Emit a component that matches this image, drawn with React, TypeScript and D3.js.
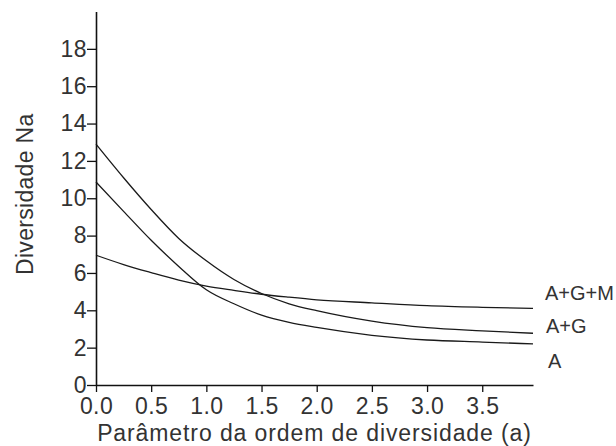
import React, { useEffect, useRef } from "react";
import * as d3 from "d3";

// parâmetro da ordem (a) where the curves were read
const orderParam = [0, 0.25, 0.5, 0.75, 1.0, 1.25, 1.5, 1.75, 2.0, 2.5, 3.0, 3.5, 3.96];

const seriesNames = ["A+G+M", "A+G", "A"];
const agmValues = [6.95, 6.45, 6.02, 5.62, 5.3, 5.07, 4.86, 4.7, 4.56, 4.4, 4.25, 4.16, 4.1];
const agValues = [12.9, 11.1, 9.4, 7.85, 6.65, 5.65, 4.9, 4.35, 3.98, 3.42, 3.07, 2.9, 2.77];
const aValues = [10.87, 9.3, 7.75, 6.35, 5.1, 4.35, 3.74, 3.35, 3.08, 2.66, 2.41, 2.3, 2.2];

const xTicks = [0, 0.5, 1.0, 1.5, 2.0, 2.5, 3.0, 3.5];
const yTicks = [0, 2, 4, 6, 8, 10, 12, 14, 16, 18];

const xTitle = "Parâmetro da ordem de diversidade (a)";
const yTitle = "Diversidade Na";

const width = 616;
const height = 446;
const margin = { top: 11.5, right: 83, bottom: 61, left: 96 };
const font = "'Liberation Sans', Arial, sans-serif";
const textColor = "#333";

export default function App() {
  const ref = useRef<SVGSVGElement>(null);

  useEffect(() => {
    const svg = d3.select(ref.current);
    svg.selectAll("*").remove();

    const x = d3
      .scaleLinear()
      .domain([0, 3.96])
      .range([margin.left, width - margin.right]);
    const y = d3
      .scaleLinear()
      .domain([0, 20])
      .range([height - margin.bottom, margin.top]);

    const series = [agmValues, agValues, aValues];
    // label nudges (px) relative to each curve's end
    const labelDy = [-8, 0, 24];
    const labelDx = [12, 13, 15];

    const line = d3
      .line<number>()
      .x((d, i) => x(orderParam[i]))
      .y(d => y(d))
      .curve(d3.curveMonotoneX);

    svg
      .append("g")
      .selectAll("path")
      .data(series)
      .join("path")
      .attr("d", d => line(d))
      .attr("fill", "none")
      .attr("stroke", "#1a1a1a")
      .attr("stroke-width", 1.3);

    // x axis
    const gx = svg
      .append("g")
      .attr("transform", `translate(0,${y(0)})`)
      .call(
        d3
          .axisBottom(x)
          .tickValues(xTicks)
          .tickFormat(d3.format(".1f"))
          .tickSize(7)
          .tickSizeOuter(0)
          .tickPadding(6)
      );

    // y axis
    const gy = svg
      .append("g")
      .attr("transform", `translate(${x(0)},0)`)
      .call(
        d3
          .axisLeft(y)
          .tickValues(yTicks)
          .tickSize(9)
          .tickSizeOuter(0)
          .tickPadding(0)
      );

    [gx, gy].forEach(g => {
      g.select(".domain").attr("stroke", "#111").attr("stroke-width", 1.6);
      g.selectAll(".tick line").attr("stroke", "#111").attr("stroke-width", 1.3);
      g.selectAll("text")
        .attr("fill", textColor)
        .style("font-family", font)
        .style("font-size", "23px")
        .style("letter-spacing", "0.4px");
    });

    svg
      .append("g")
      .selectAll("text")
      .data(seriesNames)
      .join("text")
      .attr("x", (d, i) => x(3.96) + labelDx[i])
      .attr("y", (d, i) => y(series[i][series[i].length - 1]) + labelDy[i])
      .attr("fill", textColor)
      .style("font-family", font)
      .style("font-size", "20px")
      .text(d => d);

    svg
      .append("text")
      .attr("x", (x(0) + x(3.96)) / 2)
      .attr("y", 441)
      .attr("text-anchor", "middle")
      .attr("fill", textColor)
      .style("font-family", font)
      .style("font-size", "23px")
      .style("letter-spacing", "0.9px")
      .text(xTitle);

    svg
      .append("text")
      .attr("transform", `translate(33,${(y(0) + y(20)) / 2 - 4}) rotate(-90)`)
      .attr("text-anchor", "middle")
      .attr("fill", textColor)
      .style("font-family", font)
      .style("font-size", "23px")
      .style("letter-spacing", "0.3px")
      .text(yTitle);
  }, []);

  return (
    <svg
      ref={ref}
      width={width}
      height={height}
      style={{ position: "absolute", left: 0, top: 0, background: "#fff" }}
    />
  );
}
